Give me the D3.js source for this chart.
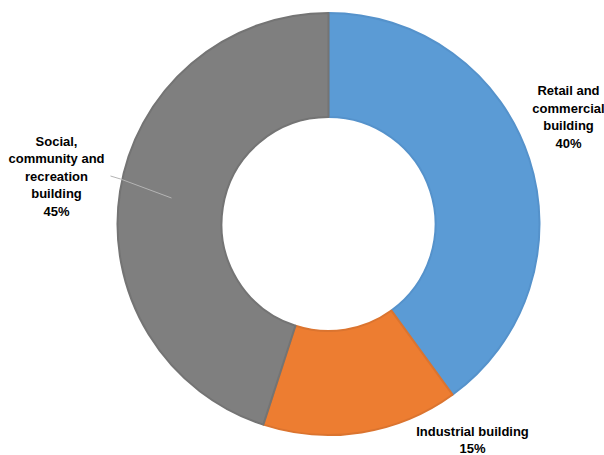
<!DOCTYPE html>
<html>
<head>
<meta charset="utf-8">
<script src="https://cdn.jsdelivr.net/npm/d3@7"></script>
<style>
  html, body { margin: 0; padding: 0; background: #ffffff; }
  svg { display: block; }
  text { font-family: "Liberation Sans", Arial, sans-serif; font-weight: bold; font-size: 13px; fill: #000; }
</style>
</head>
<body>
<svg id="chart" width="604" height="455"></svg>
<script>
// Building categories and their shares (percent)
const categories = ["Retail and commercial building", "Industrial building", "Social, community and recreation building"];
const shares = [40, 15, 45];
const fills = ["#5B9BD5", "#ED7D31", "#7F7F7F"];
const strokes = ["#5592CB", "#DB742F", "#747474"];
// Label lines as wrapped on the chart
const labelLines = [
  ["Retail and", "commercial", "building", "40%"],
  ["Industrial building", "15%"],
  ["Social,", "community and", "recreation", "building", "45%"]
];

const cx = 328.5, cy = 224;
const outerR = 211, innerR = 107;

const svg = d3.select("#chart");
const g = svg.append("g").attr("transform", `translate(${cx},${cy})`);

const data = categories.map((c, i) => ({ name: c, value: shares[i], i }));

const pie = d3.pie().sort(null).value(d => d.value);
const arc = d3.arc().innerRadius(innerR).outerRadius(outerR);
const arcs = pie(data);

g.selectAll("path.slice")
  .data(arcs)
  .join("path")
  .attr("class", "slice")
  .attr("d", arc)
  .attr("fill", d => fills[d.data.i])
  .attr("stroke", d => strokes[d.data.i])
  .attr("stroke-width", 2)
  .attr("stroke-linejoin", "round");

// Label block centres, relative to the chart centre
const labelPos = [
  { x: 240, y: -107 },
  { x: 144, y: 216 },
  { x: -272, y: -48 }
];
const lineH = 17.5;

labelLines.forEach((lines, i) => {
  const p = labelPos[i];
  const t = g.append("text")
    .attr("text-anchor", "middle");
  const y0 = p.y - (lines.length - 1) * lineH / 2;
  lines.forEach((ln, k) => {
    t.append("tspan")
      .attr("x", p.x)
      .attr("y", y0 + k * lineH)
      .attr("dy", "0.35em")
      .text(ln);
  });
});

// Leader line from the social label into its slice
const lp = labelPos[2];
g.append("polyline")
  .attr("points", [[lp.x + 54, lp.y], [lp.x + 64, lp.y + 3], [-157, -26]].map(p => p.join(",")).join(" "))
  .attr("fill", "none")
  .attr("stroke", "#b4b4b4")
  .attr("stroke-width", 1);
</script>
</body>
</html>
